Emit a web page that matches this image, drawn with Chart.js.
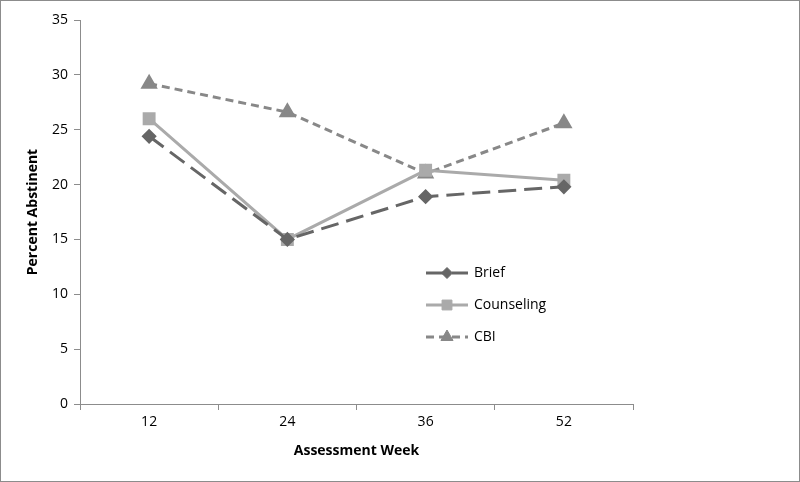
<!DOCTYPE html>
<html>
<head>
<meta charset="utf-8">
<script src="https://cdn.jsdelivr.net/npm/chart.js@4.4.1/dist/chart.umd.min.js"></script>
<style>
  html, body { margin: 0; padding: 0; background: #fff; }
  #wrap { position: relative; width: 798px; height: 480px; border: 1px solid #8c8c8c; }
</style>
</head>
<body>
<div id="wrap"><canvas id="absChart" width="798" height="480"></canvas></div>
<script>
// Assessment weeks
const weeks = ["12", "24", "36", "52"];

// Percent abstinent per condition
const brief = [24.4, 15.0, 18.9, 19.8];
const counseling = [26.0, 15.0, 21.3, 20.4];
const cbi = [29.2, 26.6, 21.0, 25.6];

const fam = "'Open Sans', 'Liberation Sans', sans-serif";
const axisFont = { family: fam, size: 14 };
const titleFont = { family: fam, size: 14, weight: "bold" };

// legend sits inside the plot area, like the original
const insideLegend = {
    id: "insideLegend",
    afterDraw(chart) {
        const c = chart.ctx;
        const x0 = 425, rows = [272, 304, 336];
        chart.data.datasets.forEach((ds, i) => {
            const y = rows[i];
            c.save();
            c.strokeStyle = ds.borderColor;
            c.lineWidth = ds.borderWidth;
            c.setLineDash(ds.borderDash || []);
            c.beginPath();
            c.moveTo(x0, y);
            c.lineTo(x0 + 42, y);
            c.stroke();
            c.setLineDash([]);
            // drawPoint uses the current fill/stroke
            c.fillStyle = ds.backgroundColor;
            c.lineWidth = 1;
            Chart.helpers.drawPoint(c, { pointStyle: ds.pointStyle, radius: ds.pointRadius, borderWidth: 1 }, x0 + 21, y);
            c.fillStyle = "#000";
            c.font = "14px " + fam;
            c.textBaseline = "middle";
            c.fillText(ds.label, x0 + 48, y);
            c.restore();
        });
    },
};

const ctx = document.getElementById("absChart").getContext("2d");
const chart = new Chart(ctx, {
    type: "line",
    data: {
        labels: weeks,
        datasets: [
            {
                label: "Brief",
                data: brief,
                borderColor: "#666666",
                backgroundColor: "#666666",
                borderWidth: 3,
                borderDash: [18, 8],
                pointStyle: "rectRot",
                pointRadius: 5.5,
            },
            {
                label: "Counseling",
                data: counseling,
                borderColor: "#aaaaaa",
                backgroundColor: "#aaaaaa",
                borderWidth: 3,
                pointStyle: "rect",
                pointRadius: 7,
            },
            {
                label: "CBI",
                data: cbi,
                borderColor: "#888888",
                backgroundColor: "#888888",
                borderWidth: 3,
                borderDash: [8, 5],
                pointStyle: "triangle",
                pointRadius: 7,
            },
        ],
    },
    options: {
        responsive: false,
        animation: false,
        layout: { padding: { top: 19, right: 166, left: 24, bottom: 22 } },
        elements: { line: { tension: 0 }, point: { borderWidth: 1 } },
        plugins: {
            legend: { display: false },
            tooltip: { enabled: false },
        },
        scales: {
            x: {
                offset: true,
                grid: {
                    offset: true,
                    drawOnChartArea: false,
                    tickLength: 6,
                    color: "#8c8c8c",
                },
                border: { color: "#8c8c8c" },
                ticks: { color: "#000", font: axisFont, padding: 4 },
                title: { display: true, text: "Assessment Week", color: "#000", font: titleFont, padding: 0 },
                afterFit(scale) { scale.height = 55; },
            },
            y: {
                min: 0,
                max: 35,
                grid: { drawOnChartArea: false, tickLength: 6, color: "#8c8c8c" },
                border: { color: "#8c8c8c" },
                ticks: { stepSize: 5, color: "#000", font: axisFont, padding: 6 },
                title: { display: true, text: "Percent Abstinent", color: "#000", font: titleFont, padding: 0 },
                afterFit(scale) { scale.width = 55; },
            },
        },
    },
    plugins: [insideLegend],
});
</script>
</body>
</html>
